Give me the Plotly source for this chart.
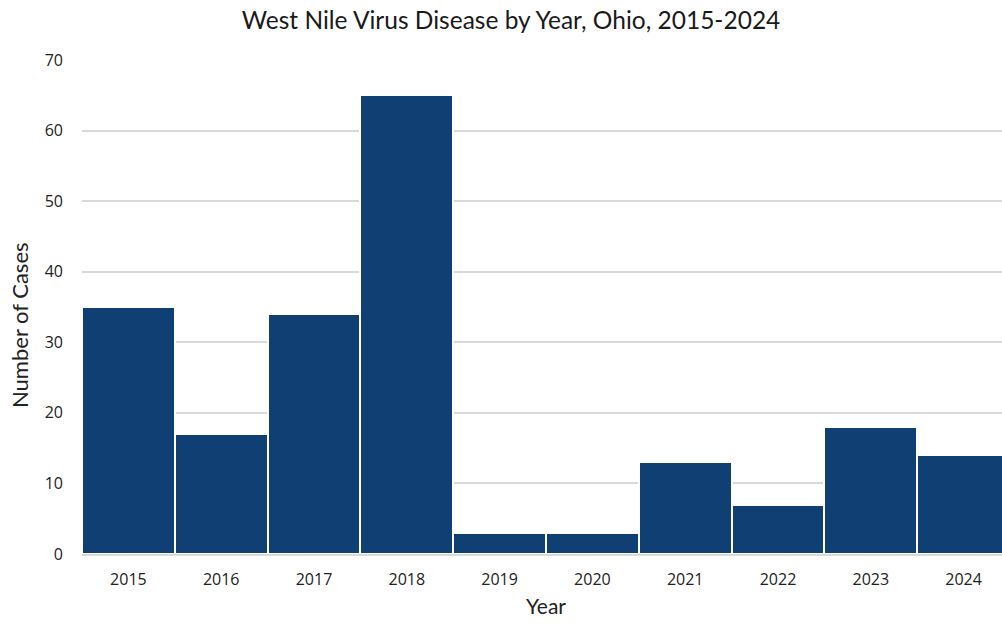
import plotly.graph_objects as go

years = ["2015", "2016", "2017", "2018", "2019", "2020", "2021", "2022", "2023", "2024"]
cases = [35, 17, 34, 65, 3, 3, 13, 7, 18, 14]

fig = go.Figure(go.Bar(
    x=years, y=cases,
    marker=dict(color="#103f73", line=dict(color="white", width=2)),
    width=1.0,
))
fig.update_layout(
    width=1010, height=624,
    margin=dict(l=82, r=0, t=60, b=70),
    paper_bgcolor="white", plot_bgcolor="white",
    bargap=0,
    title=dict(text="West Nile Virus Disease by Year, Ohio, 2015-2024",
               x=0.506, xanchor="center", y=0.968, yanchor="middle",
               font=dict(family="Lato", size=24.5, color="#1a1a1a")),
    font=dict(family="Open Sans", color="#222222"),
    showlegend=False,
)
fig.update_xaxes(
    type="category", showgrid=False, showline=True, linecolor="#d9d9d9", linewidth=2,
    ticks="", ticklabelstandoff=10, tickfont=dict(size=16, family="Open Sans"),
    title=dict(text="Year", font=dict(size=21, family="Lato"), standoff=10),
)
fig.update_yaxes(
    range=[0, 70], dtick=10, showgrid=True, gridcolor="#d9d9d9", gridwidth=2,
    zeroline=False, showline=False, ticks="", ticklen=0, ticklabelstandoff=18,
    tickfont=dict(size=16, family="Open Sans"),
)
fig.add_annotation(
    text="Number of Cases", textangle=-90, showarrow=False,
    xref="paper", yref="paper", x=0, y=0.5, xanchor="center", yanchor="middle",
    xshift=-63, yshift=-18, font=dict(size=22, family="Lato", color="#222222"),
)
fig.write_html("out.html", config={"displayModeBar": False},
               post_script="document.body.style.margin='0';document.body.style.overflow='hidden';")
